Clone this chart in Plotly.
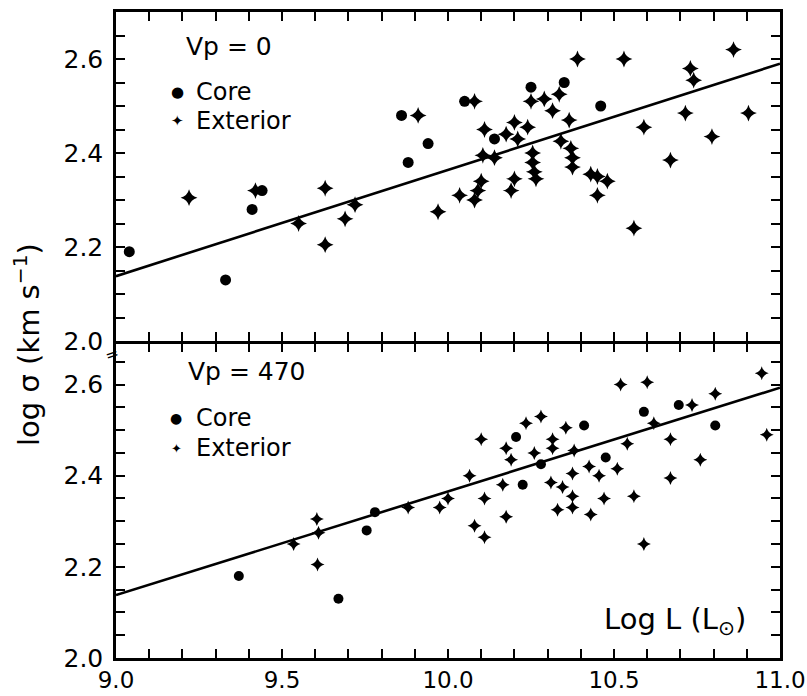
import plotly.graph_objects as go

# ---- data -------------------------------------------------------------
# Vp = 0 panel
top_core_x = [9.04, 9.33, 9.41, 9.44, 9.86, 9.88, 9.94, 10.05, 10.14, 10.25, 10.35, 10.46]
top_core_y = [2.19, 2.13, 2.28, 2.32, 2.48, 2.38, 2.42, 2.51, 2.43, 2.54, 2.55, 2.50]

top_ext_x = [9.22, 9.42, 9.55, 9.63, 9.63, 9.69, 9.72, 9.91, 10.08, 10.39, 10.53, 10.86,
             10.73, 10.74, 10.715, 10.905, 10.59, 10.795, 10.67, 10.56, 9.97, 10.035,
             10.08, 10.09, 10.10, 10.11, 10.105, 10.14, 10.175, 10.20, 10.21, 10.24,
             10.19, 10.20, 10.25, 10.29, 10.315, 10.335, 10.365, 10.34, 10.255, 10.255,
             10.26, 10.265, 10.37, 10.375, 10.375, 10.43, 10.45, 10.48, 10.45]
top_ext_y = [2.305, 2.32, 2.25, 2.325, 2.205, 2.26, 2.29, 2.48, 2.51, 2.60, 2.60, 2.62,
             2.58, 2.555, 2.485, 2.485, 2.455, 2.435, 2.385, 2.24, 2.275, 2.31,
             2.30, 2.32, 2.34, 2.45, 2.395, 2.39, 2.44, 2.465, 2.43, 2.455,
             2.32, 2.345, 2.51, 2.515, 2.49, 2.525, 2.47, 2.425, 2.40, 2.38,
             2.36, 2.345, 2.41, 2.39, 2.37, 2.355, 2.35, 2.34, 2.31]

# Vp = 470 panel
bot_core_x = [9.37, 9.67, 9.755, 9.78, 10.205, 10.225, 10.28, 10.41, 10.475, 10.59, 10.695, 10.805]
bot_core_y = [2.18, 2.13, 2.28, 2.32, 2.485, 2.38, 2.425, 2.51, 2.44, 2.54, 2.555, 2.51]

bot_ext_x = [9.535, 9.605, 9.61, 9.607, 9.88, 9.975, 10.0, 10.065, 10.10, 10.11, 10.08,
             10.11, 10.175, 10.165, 10.175, 10.19, 10.235, 10.28, 10.26, 10.315, 10.315,
             10.31, 10.345, 10.33, 10.375, 10.375, 10.355, 10.38, 10.375, 10.425, 10.455,
             10.43, 10.47, 10.51, 10.52, 10.60, 10.62, 10.54, 10.56, 10.59, 10.67, 10.67,
             10.735, 10.805, 10.76, 10.945, 10.96]
bot_ext_y = [2.25, 2.305, 2.275, 2.205, 2.33, 2.33, 2.35, 2.40, 2.48, 2.35, 2.29,
             2.265, 2.31, 2.38, 2.46, 2.435, 2.515, 2.53, 2.45, 2.48, 2.46,
             2.385, 2.375, 2.325, 2.355, 2.33, 2.505, 2.455, 2.405, 2.42, 2.40,
             2.315, 2.35, 2.415, 2.60, 2.605, 2.515, 2.47, 2.355, 2.25, 2.48, 2.395,
             2.555, 2.58, 2.435, 2.625, 2.49]

# fitted relations
fit_x = [9.0, 11.0]
top_fit_y = [2.138, 2.590]
bot_fit_y = [2.138, 2.593]

# tick spacing: labelled / fine
X_MAJOR, X_MINOR = 0.5, 0.1
Y_MAJOR, Y_MINOR = 0.2, 0.05
X_RANGE = [9.0, 11.0]
TOP_RANGE = [2.0, 2.7]
BOT_RANGE = [2.0, 2.69]

# ---- layout geometry (pixels) -------------------------------------------
FONT = "DejaVu Sans"
W, H = 807, 696
X0, X1 = 116, 780
TOP_PX = (12, 341)
BOT_PX = (343.5, 658)
XDOM = [X0 / W, X1 / W]
TOP_DOM = [1 - TOP_PX[1] / H, 1 - TOP_PX[0] / H]
BOT_DOM = [1 - BOT_PX[1] / H, 1 - BOT_PX[0] / H]

fig = go.Figure()

fig.add_trace(go.Scatter(x=fit_x, y=top_fit_y, mode="lines", line=dict(color="black", width=2.6),
                         showlegend=False, xaxis="x", yaxis="y"))
fig.add_trace(go.Scatter(x=top_core_x, y=top_core_y, mode="markers", name="Core", showlegend=False,
                         marker=dict(symbol="circle", size=11, color="black"),
                         xaxis="x", yaxis="y"))
fig.add_trace(go.Scatter(x=top_ext_x, y=top_ext_y, mode="markers", name="Exterior", showlegend=False,
                         marker=dict(symbol="star-diamond", size=12, color="black"),
                         xaxis="x", yaxis="y"))

fig.add_trace(go.Scatter(x=fit_x, y=bot_fit_y, mode="lines", line=dict(color="black", width=2.6),
                         showlegend=False, xaxis="x2", yaxis="y2"))
fig.add_trace(go.Scatter(x=bot_core_x, y=bot_core_y, mode="markers", name="Core", showlegend=False,
                         marker=dict(symbol="circle", size=10, color="black"),
                         xaxis="x2", yaxis="y2"))
fig.add_trace(go.Scatter(x=bot_ext_x, y=bot_ext_y, mode="markers", name="Exterior", showlegend=False,
                         marker=dict(symbol="star-diamond", size=10, color="black"),
                         xaxis="x2", yaxis="y2"))

tick_style = dict(ticks="inside", ticklen=9, tickwidth=2, tickcolor="black")
axis_common = dict(showline=True, linecolor="black", linewidth=2.5, mirror="allticks",
                   showgrid=False, zeroline=False, **tick_style)


def minor(step, start):
    return dict(dtick=step, tick0=start, showgrid=False, **tick_style)


fig.update_layout(
    template="none",
    width=W, height=H,
    margin=dict(l=0, r=0, t=0, b=0),
    showlegend=False,
    xaxis=dict(domain=XDOM, range=X_RANGE, anchor="y", dtick=X_MINOR, tick0=9.0,
               showticklabels=False, **axis_common),
    yaxis=dict(domain=TOP_DOM, range=TOP_RANGE, anchor="x", dtick=Y_MAJOR, tick0=2.0,
               tickformat=".1f", ticksuffix="\u2009", minor=minor(Y_MINOR, 2.0),
               tickfont=dict(family=FONT, size=25, color="black"), **axis_common),
    xaxis2=dict(domain=XDOM, range=X_RANGE, anchor="y2", dtick=X_MAJOR, tick0=9.0,
                tickformat=".1f", minor=minor(X_MINOR, 9.0),
                tickfont=dict(family=FONT, size=23, color="black"), **axis_common),
    yaxis2=dict(domain=BOT_DOM, range=BOT_RANGE, anchor="x2", dtick=Y_MAJOR, tick0=2.0,
                tickformat=".1f", ticksuffix="\u2009", minor=minor(Y_MINOR, 2.0),
                tickfont=dict(family=FONT, size=25, color="black"), **axis_common),
)


def note(text, x_px, y_px, size, anchor="left", angle=0):
    fig.add_annotation(text=text, xref="paper", yref="paper", x=x_px / W, y=1 - y_px / H,
                       xanchor=anchor, yanchor="middle", showarrow=False, textangle=angle,
                       font=dict(family=FONT, size=size, color="black"))


# panel keys
note("Vp = 0", 184, 47, 25)
note("●", 177, 92, 15, anchor="center")
note("Core", 194, 92, 24)
note("✦", 177, 121, 15, anchor="center")
note("Exterior", 194, 121, 24)

note("Vp = 470", 186, 372, 25)
note("●", 176, 418, 14, anchor="center")
note("Core", 194, 418, 24)
note("✦", 176, 448, 13, anchor="center")
note("Exterior", 194, 448, 24)

# axis titles
note("log σ (km s<sup>−1</sup>)", 27, 345, 29, anchor="center", angle=-90)
note("Log L (L<sub>⊙</sub>)", 748, 621, 29, anchor="right")

# axis-break mark on the left spine between the panels
note("=", 111, 354, 16, anchor="center", angle=-20)

fig.write_html("out.html")
